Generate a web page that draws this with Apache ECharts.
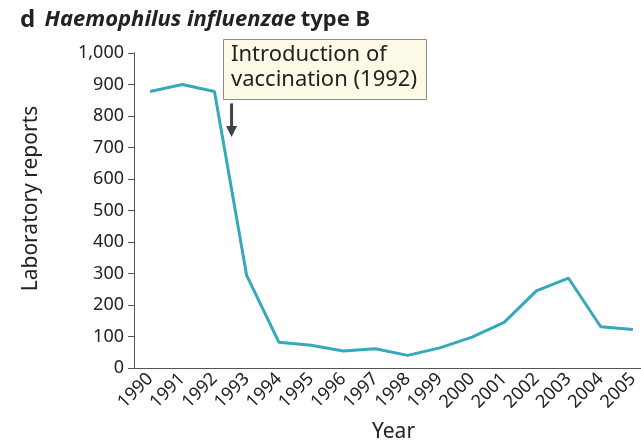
<!DOCTYPE html>
<html>
<head>
<meta charset="utf-8">
<script src="https://cdn.jsdelivr.net/npm/echarts@6/dist/echarts.min.js"></script>
<style>
  html, body { margin: 0; padding: 0; background: #fff; }
  #chart { width: 641px; height: 443px; }
</style>
</head>
<body>
<div id="chart"></div>
<script>
const years = ['1990', '1991', '1992', '1993', '1994', '1995', '1996', '1997',
  '1998', '1999', '2000', '2001', '2002', '2003', '2004', '2005'];
const reports = [878, 900, 878, 294, 82, 72, 54, 61, 40, 64, 98, 145, 245, 285, 131, 122];
const yTicks = { min: 0, max: 1000, interval: 100 };

const font = 'Noto Sans';
const ink = '#222';
const axisGrey = '#555';

const chart = echarts.init(document.getElementById('chart'));

chart.setOption({
  animation: false,
  textStyle: { fontFamily: font },
  title: {
    left: 15,
    top: 3,
    text: '{d|d}  {i|Haemophilus influenzae} {b|type B}',
    textStyle: {
      rich: {
        d: { fontSize: 24, fontWeight: 'bold', color: ink, fontFamily: font },
        i: { fontSize: 22, fontWeight: 'bold', fontStyle: 'italic', color: ink, fontFamily: font },
        b: { fontSize: 22, fontWeight: 'bold', color: ink, fontFamily: font }
      }
    }
  },
  grid: {
    left: 134, top: 53, bottom: 75, width: 515,
    containLabel: false,
    outerBoundsMode: 'none'
  },
  xAxis: {
    type: 'category',
    data: years,
    boundaryGap: true,
    name: 'Year',
    nameLocation: 'middle',
    nameGap: 54,
    nameTextStyle: { fontSize: 21, color: ink, padding: [0, 0, 0, 4] },
    axisLine: { lineStyle: { color: axisGrey, width: 1 } },
    axisTick: { length: 6, lineStyle: { color: axisGrey } },
    axisLabel: {
      rotate: 45,
      interval: 0,
      margin: 8,
      fontSize: 18,
      color: ink
    }
  },
  yAxis: {
    type: 'value',
    min: yTicks.min,
    max: yTicks.max,
    interval: yTicks.interval,
    name: 'Laboratory reports',
    nameLocation: 'middle',
    nameGap: 92,
    nameTextStyle: { fontSize: 21, color: ink, padding: [0, 0, 0, 24] },
    splitLine: { show: false },
    axisLine: { show: true, lineStyle: { color: axisGrey, width: 1 } },
    axisTick: { show: true, length: 6, lineStyle: { color: axisGrey } },
    axisLabel: {
      margin: 10,
      fontSize: 18,
      color: ink,
      formatter: v => v.toLocaleString('en-US')
    }
  },
  series: [{
    type: 'line',
    data: reports,
    symbol: 'none',
    lineStyle: { color: '#36a8bc', width: 3 },
    clip: false
  }]
});

// annotation: box + arrow placed between 1992 and 1993
const p1992 = chart.convertToPixel({ xAxisIndex: 0 }, '1992');
const p1993 = chart.convertToPixel({ xAxisIndex: 0 }, '1993');
const ax = (p1992 + p1993) / 2 + 1;
const yTop = chart.convertToPixel({ yAxisIndex: 0 }, 840);
const yTip = chart.convertToPixel({ yAxisIndex: 0 }, 733);

chart.setOption({
  graphic: [
    {
      type: 'rect',
      shape: { x: 223.5, y: 39.5, width: 203, height: 60 },
      style: { fill: '#fdfbe7', stroke: '#8a8a8a', lineWidth: 1 }
    },
    {
      type: 'text',
      x: 231,
      y: 42,
      style: {
        text: 'Introduction of\nvaccination (1992)',
        fontFamily: font,
        fontSize: 22,
        lineHeight: 25,
        fill: ink
      }
    },
    {
      type: 'line',
      shape: { x1: ax, y1: yTop, x2: ax, y2: yTip - 6 },
      style: { stroke: '#3b4248', lineWidth: 3 }
    },
    {
      type: 'polygon',
      shape: { points: [[ax - 5.5, yTip - 11], [ax + 5.5, yTip - 11], [ax, yTip]] },
      style: { fill: '#3b4248' }
    }
  ]
});
</script>
</body>
</html>
